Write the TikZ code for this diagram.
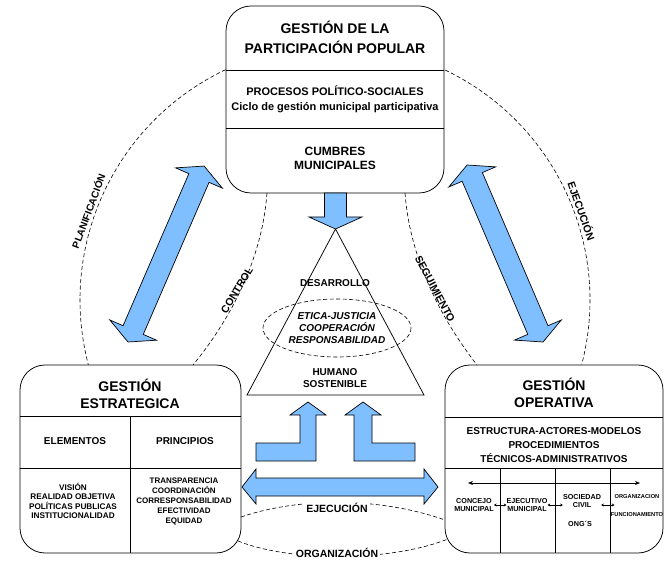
\documentclass[tikz,border=0pt]{standalone}
\usepackage{fontspec}
\setmainfont{Liberation Sans}
\usetikzlibrary{arrows.meta}
\definecolor{arrowblue}{RGB}{128,191,255}
\begin{document}
\begin{tikzpicture}[x=1pt,y=-1pt,
  box/.style={draw,line width=0.75pt,rounded corners=25pt,inner sep=0pt},
  rule/.style={line width=0.75pt},
  arrowshape/.style={draw=black,fill=arrowblue,line width=0.7pt,line join=miter},
  dashline/.style={dash pattern=on 4pt off 2.5pt,line width=0.6pt},
  txt/.style={align=center,inner sep=1pt},
  smallarr/.style={{Stealth[length=2.6pt,width=3pt]}-{Stealth[length=2.6pt,width=3pt]},line width=0.6pt,shorten <=-1pt,shorten >=-1pt},
  longarr/.style={{Stealth[length=5pt,width=4pt]}-{Stealth[length=5pt,width=4pt]},line width=0.7pt}
]
\useasboundingbox (0,0) rectangle (664,561);

% ---------- boxes ----------
\node[box,minimum width=218pt,minimum height=187pt] (topbox) at (335,99.5) {};
\draw[rule] (226,70) -- (444,70);
\draw[rule] (226,128) -- (444,128);

\node[box,minimum width=221pt,minimum height=188pt] (leftbox) at (130.5,459) {};
\draw[rule] (20,416) -- (241,416);
\draw[rule] (20,468) -- (241,468);
\draw[rule] (130,416) -- (130,553);

\node[box,minimum width=218pt,minimum height=188pt] (rightbox) at (554,459) {};
\draw[rule] (445,417) -- (663,417);
\draw[rule] (445,468) -- (663,468);
\draw[rule] (500,468) -- (500,553);
\draw[rule] (555,468) -- (555,553);
\draw[rule] (610,468) -- (610,553);

% ---------- dashed curves ----------
\coordinate (cc) at (335,300);
\draw[dashline] ([shift={(244.6:255)}]cc) arc[start angle=244.6,end angle=165.3,radius=255];
\draw[dashline] ([shift={(-64.4:255)}]cc) arc[start angle=-64.4,end angle=14.6,radius=255];
\draw[dashline] (267,193) .. controls (262,260) and (230,320) .. (193,365);
\draw[dashline] (405,193) .. controls (410,260) and (442,320) .. (477,365);
\draw[dashline] (241,517) .. controls (300,497) and (380,497) .. (445,520);
\draw[dashline] (238,541) .. controls (290,562) and (390,562) .. (448,539);

% ---------- triangle & ellipse ----------
\coordinate (apex) at (335.5,229);
\coordinate (bl) at (247,395);
\coordinate (br) at (424,395);
\draw[line width=0.75pt] (apex) -- (br) -- (bl) -- cycle;
\draw[dashline] (337,328) ellipse [x radius=74,y radius=29];

% ---------- blue arrows ----------
\draw[arrowshape] (324.5,193) -- (324.5,217) -- (309,217) -- (apex) -- (362,217) -- (346.5,217) -- (346.5,193) -- cycle;

\begin{scope}[shift={(128,342)},rotate=66.6]
  \draw[arrowshape] (0,0) -- (13,25.5) -- (13,11) -- (178.7,11) -- (178.7,25.5) -- (191.7,0)
    -- (178.7,-25.5) -- (178.7,-11) -- (13,-11) -- (13,-25.5) -- cycle;
\end{scope}
\begin{scope}[shift={(543,342)},rotate=113.2]
  \draw[arrowshape] (0,0) -- (13,25.5) -- (13,11) -- (179.6,11) -- (179.6,25.5) -- (192.6,0)
    -- (179.6,-25.5) -- (179.6,-11) -- (13,-11) -- (13,-25.5) -- cycle;
\end{scope}

\draw[arrowshape] (256,443) -- (300,443) -- (300,415) -- (290,415) -- (308,402) -- (326,415)
  -- (316,415) -- (316,461) -- (256,461) -- cycle;
\draw[arrowshape] (354,461) -- (354,415) -- (345,415) -- (363,402) -- (381,415) -- (372,415)
  -- (372,443) -- (415,443) -- (415,461) -- cycle;

\draw[arrowshape] (242,487) -- (256,469) -- (256,478) -- (424,478) -- (424,469) -- (438,487)
  -- (424,504) -- (424,496) -- (256,496) -- (256,504) -- cycle;

% ---------- texts: top box ----------
\node[txt,font=\fontsize{14}{20}\selectfont\bfseries] (toptitle) at (335,37) {GESTIÓN DE LA\\PARTICIPACIÓN POPULAR};
\node[txt,font=\fontsize{11}{15}\selectfont\bfseries] (topsub) at (335,99.5) {PROCESOS POLÍTICO-SOCIALES\\Ciclo de gestión municipal participativa};
\node[txt,font=\fontsize{12}{14}\selectfont\bfseries] (cumbres) at (335,158) {CUMBRES\\MUNICIPALES};

% ---------- texts: left box ----------
\node[txt,font=\fontsize{14}{17}\selectfont\bfseries] (lefttitle) at (130,393.5) {GESTIÓN\\ESTRATEGICA};
\node[txt,font=\fontsize{10}{12}\selectfont\bfseries] (elem) at (75,441) {ELEMENTOS};
\node[txt,font=\fontsize{10}{12}\selectfont\bfseries] (princ) at (185,441) {PRINCIPIOS};
\node[txt,font=\fontsize{8.2}{9.5}\selectfont\bfseries] (elemlist) at (73,501) {VISIÓN\\REALIDAD OBJETIVA\\POLÍTICAS PUBLICAS\\INSTITUCIONALIDAD};
\node[txt,font=\fontsize{8}{10.2}\selectfont\bfseries] (princlist) at (184,501.5) {TRANSPARENCIA\\COORDINACIÓN\\CORRESPONSABILIDAD\\EFECTIVIDAD\\EQUIDAD};

% ---------- texts: right box ----------
\node[txt,font=\fontsize{14}{16.5}\selectfont\bfseries] (righttitle) at (554,393) {GESTIÓN\\OPERATIVA};
\node[txt,font=\fontsize{10}{14}\selectfont\bfseries] (estruct) at (554,445) {ESTRUCTURA-ACTORES-MODELOS\\PROCEDIMIENTOS\\TÉCNICOS-ADMINISTRATIVOS};
\coordinate (la) at (468,483);
\coordinate (lb) at (640,483);
\draw[longarr] (la) -- (lb);
\node[txt,font=\fontsize{7.2}{8}\selectfont\bfseries] (concejo) at (474,505) {CONCEJO\\MUNICIPAL};
\node[txt,font=\fontsize{7.2}{8}\selectfont\bfseries] (ejec) at (527,505) {EJECUTIVO\\MUNICIPAL};
\node[txt,font=\fontsize{7.2}{8}\selectfont\bfseries] (soc) at (582,501) {SOCIEDAD\\CIVIL};
\node[txt,font=\fontsize{7.2}{8}\selectfont\bfseries] (ong) at (580,524) {ONG´S};
\node[txt,font=\fontsize{5.7}{7}\selectfont\bfseries] (org) at (637,497) {ORGANIZACION};
\node[txt,font=\fontsize{5.7}{7}\selectfont\bfseries] (func) at (637,515) {FUNCIONAMIENTO};
\draw[smallarr] (concejo.east) -- (concejo.east -| ejec.west);
\draw[smallarr] (ejec.east) -- (ejec.east -| soc.west);
\draw[smallarr] (soc.east |- ejec.east) -- (org.west |- ejec.east);

% ---------- texts: triangle ----------
\node[txt,font=\fontsize{10}{12}\selectfont\bfseries] (desarrollo) at (335,283) {DESARROLLO};
\node[txt,font=\fontsize{10}{12}\selectfont\bfseries\itshape] (etica) at (337,328) {ETICA-JUSTICIA\\COOPERACIÓN\\RESPONSABILIDAD};
\node[txt,font=\fontsize{10}{12}\selectfont\bfseries] (humano) at (335,378) {HUMANO\\SOSTENIBLE};

% ---------- arc labels ----------
\node[txt,font=\fontsize{10}{12}\selectfont\bfseries,rotate=69.6] (planif) at (88,211) {PLANIFICACIÓN};
\node[txt,font=\fontsize{10.5}{12}\selectfont\bfseries,rotate=-70.2] (ejecr) at (582,211) {EJECUCIÓN};
\node[txt,font=\fontsize{10.5}{12}\selectfont\bfseries,rotate=59] (control) at (237,290) {CONTROL};
\node[txt,font=\fontsize{10.5}{12}\selectfont\bfseries,rotate=-62] (seguim) at (435,289) {SEGUIMIENTO};
\node[txt,font=\fontsize{10.5}{12}\selectfont\bfseries,fill=white,inner sep=2pt] (ejecb) at (337,508) {EJECUCIÓN};
\node[txt,font=\fontsize{10.5}{12}\selectfont\bfseries,fill=white,inner sep=2pt] (organiz) at (337,553) {ORGANIZACIÓN};
\end{tikzpicture}
\end{document}
